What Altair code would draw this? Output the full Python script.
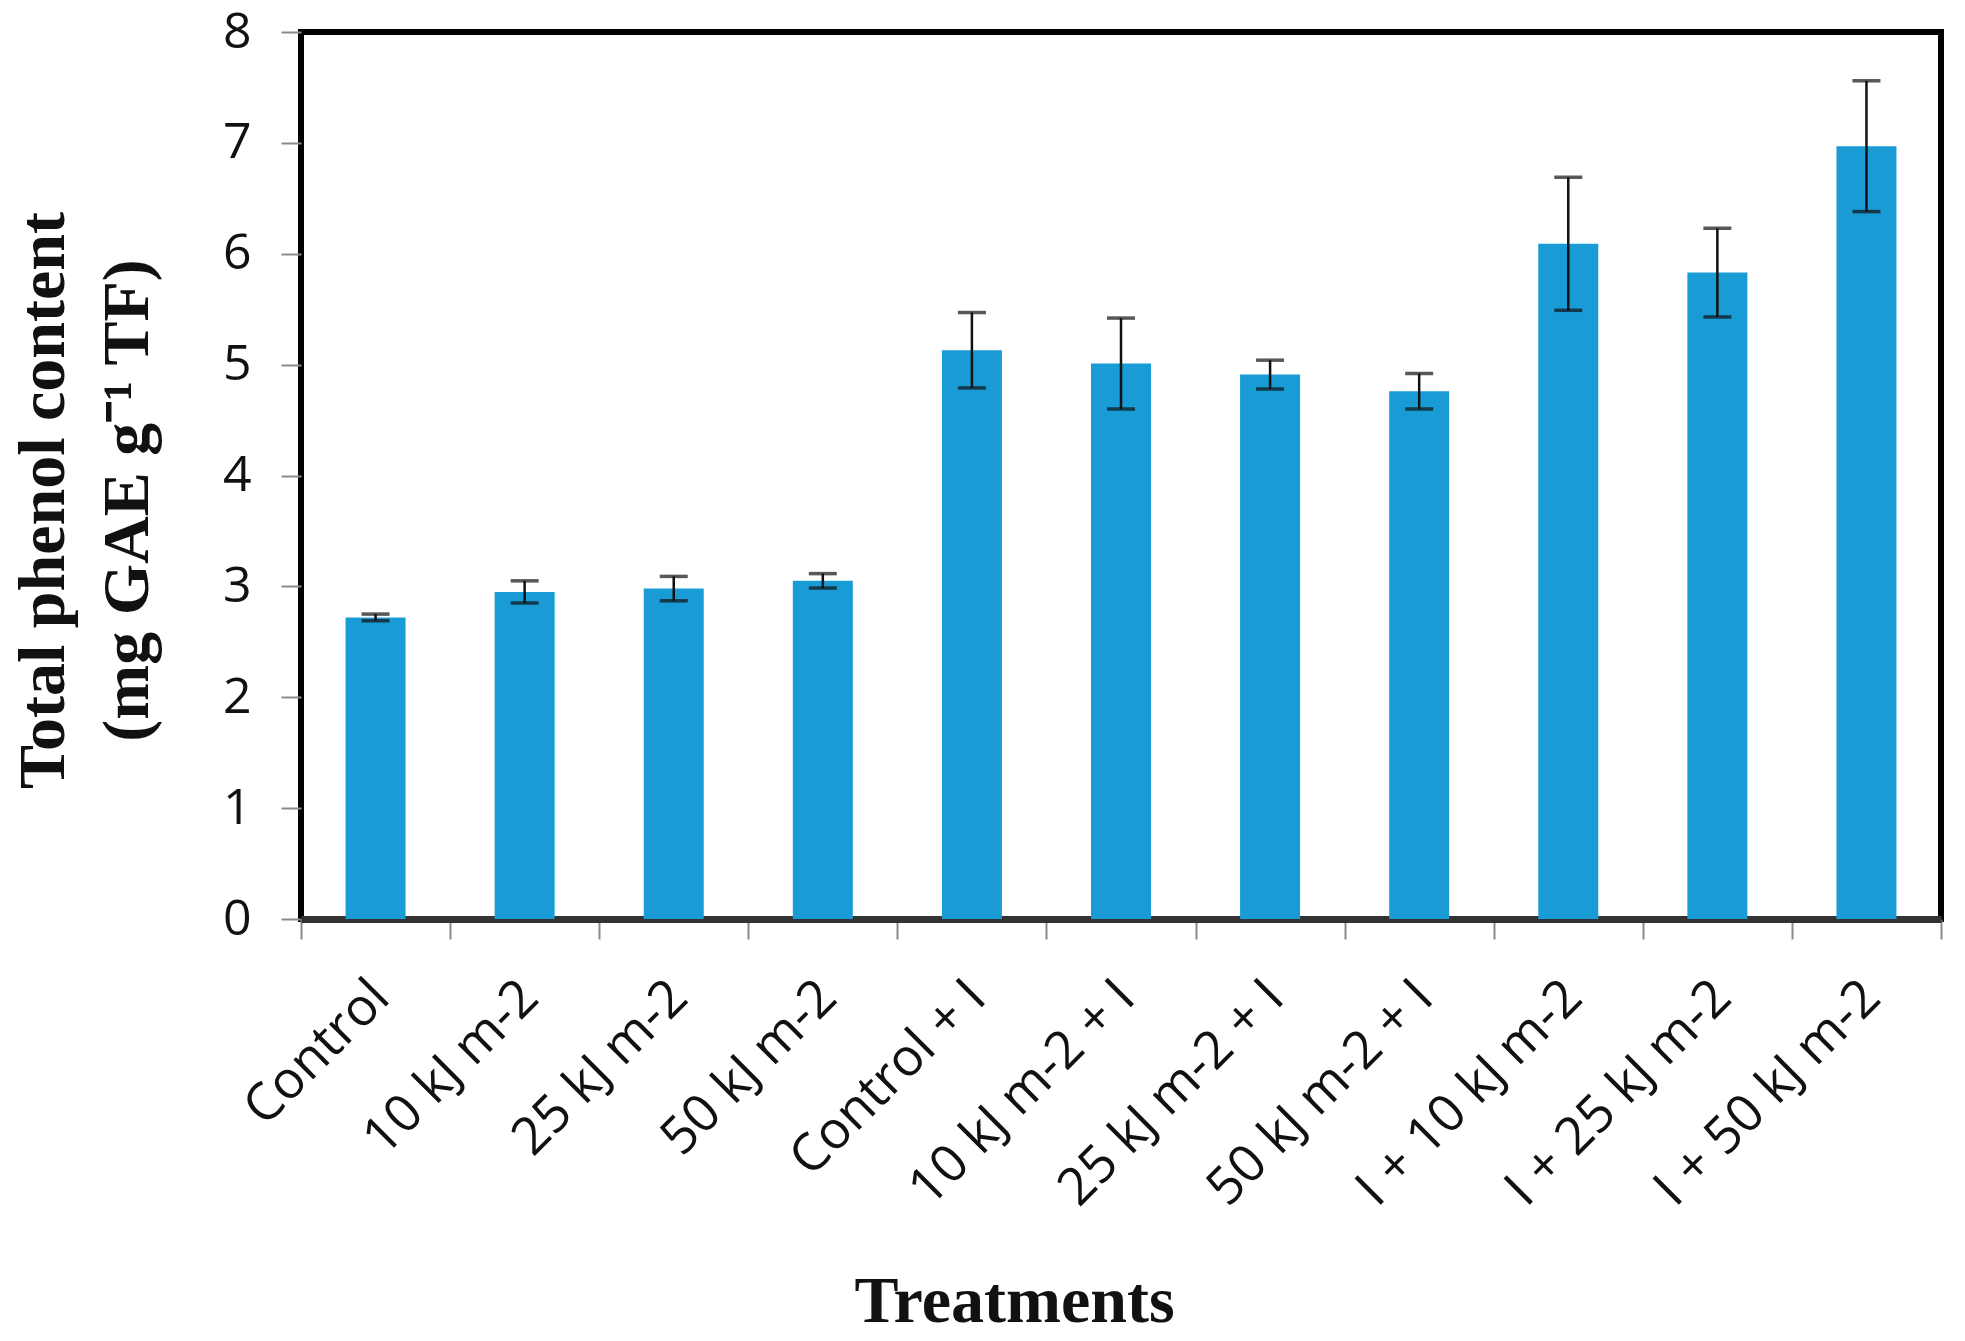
import altair as alt
import pandas as pd

treatments = ["Control", "10 kJ m-2", "25 kJ m-2", "50 kJ m-2", "Control + I",
              "10 kJ m-2 + I", "25 kJ m-2 + I", "50 kJ m-2 + I",
              "I + 10 kJ m-2", "I + 25 kJ m-2", "I + 50 kJ m-2"]
phenol = [2.72, 2.95, 2.98, 3.05, 5.13, 5.01, 4.91, 4.76, 6.09, 5.83, 6.97]
errors = [0.03, 0.10, 0.11, 0.065, 0.34, 0.41, 0.13, 0.16, 0.60, 0.40, 0.59]
y_ticks = [0, 1, 2, 3, 4, 5, 6, 7, 8]

df = pd.DataFrame({"treatment": treatments, "phenol": phenol, "err": errors})

W, H = 1640, 887
SANS = "Open Sans"
SERIF = "Liberation Serif"

x_axis = alt.Axis(title="Treatments", labelAngle=315, labelFont=SANS,
                  labelFontSize=52, labelColor="#111111", labelPadding=61,
                  labelOffset=16, labelAlign="right", labelBaseline="alphabetic",
                  tickBand="extent", tickSize=20,
                  tickColor="#8a8a8a", tickWidth=2, domainColor="#333333",
                  domainWidth=7, titleFont=SERIF, titleFontSize=66,
                  titleFontWeight="bold", titleColor="#111111",
                  titleX=713, titleY=402, titleBaseline="alphabetic",
                  titleAlign="center", labelLimit=0)
x = alt.X("treatment:N", sort=treatments,
          scale=alt.Scale(paddingInner=0, paddingOuter=0), axis=x_axis)
xs = alt.X("treatment:N", sort=treatments)
y = alt.Y("phenol:Q", scale=alt.Scale(domain=[0, 8], nice=False),
          axis=alt.Axis(title=["Total phenol content", "(mg GAE g⁻¹ TF)"],
                        values=y_ticks, format="d", labelFont=SANS, labelFontSize=50,
                        labelColor="#111111", labelPadding=30, tickSize=20,
                        tickColor="#8a8a8a", tickWidth=2, domain=False,
                        grid=False, titleFont=SERIF, titleFontSize=66,
                        titleFontWeight="bold", titleColor="#111111",
                        titleLineHeight=84, titleX=-258, titleY=468,
                        titleBaseline="middle", titleAngle=270, titleAlign="center"))

base = alt.Chart(df).transform_calculate(
    lo="datum.phenol - datum.err", hi="datum.phenol + datum.err")

bars = base.mark_bar(size=60, color="#199BD6").encode(x=x, y=y)
rule = base.mark_rule(color="#111111", strokeWidth=2.5).encode(
    x=xs, y="lo:Q", y2="hi:Q")
cap_lo = base.mark_tick(color="#111111", size=28, thickness=3.5).encode(
    x=xs, y="lo:Q")
cap_hi = base.mark_tick(color="#111111", size=28, thickness=3.5).encode(
    x=xs, y="hi:Q")

chart = alt.layer(bars, rule, cap_lo, cap_hi).properties(
    width=W, height=H,
    background="white",
    autosize=alt.AutoSizeParams(type="none"),
    padding={"left": 293, "top": 24, "right": 16, "bottom": 420},
).configure_view(stroke="black", strokeWidth=6)

chart.save("out.html", embed_options={"renderer": "svg", "actions": False})
